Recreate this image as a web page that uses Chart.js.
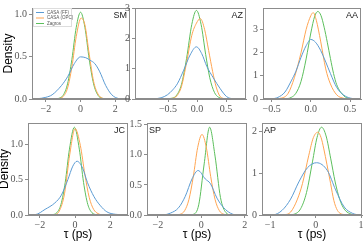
<!DOCTYPE html>
<html>
<head>
<meta charset="utf-8">
<script src="https://cdn.jsdelivr.net/npm/chart.js@4.4.0/dist/chart.umd.min.js"></script>
<style>
  body { margin: 0; background: #fff; width: 364px; height: 242px; overflow: hidden; position: relative; }
  canvas { position: absolute; }
</style>
</head>
<body>
<canvas id="c1"></canvas>
<canvas id="c2"></canvas>
<canvas id="c3"></canvas>
<canvas id="c4"></canvas>
<canvas id="c5"></canvas>
<canvas id="c6"></canvas>
<script>
// nomes das séries e dos painéis
const seriesNames = ['CASA (FF)', 'CASA (OPC)', 'Zagros'];
const seriesColors = ['#5b9bd3', '#ffa552', '#5cbf5c'];
const panelNames = ['SM', 'AZ', 'AA', 'JC', 'SP', 'AP'];

// ticks de cada painel
const xTicks = [[-2, 0, 2], [-0.5, 0, 0.5], [-0.5, 0, 0.5], [-2, 0, 2], [-2, 0, 2], [-1, 0, 1]];
const yTicks = [[0, 0.5, 1], [0, 1, 2, 3], [0, 1, 2, 3], [0, 0.5, 1], [0, 0.5, 1, 1.5], [0, 1, 2]];
const xDecimals = [0, 1, 1, 0, 0, 0];
const yDecimals = [1, 0, 0, 1, 1, 0];

// SM
const smBlueX = [-2.8, -2.5, -2, -1.64, -1.1, -0.73, -0.36, 0, 0.3, 0.55, 0.82, 1.09, 1.45, 1.8, 2.2, 2.5, 2.85];
const smBlueY = [0, 0.003, 0.02, 0.05, 0.16, 0.27, 0.42, 0.5, 0.49, 0.46, 0.42, 0.33, 0.16, 0.05, 0.005, 0, 0];
const smOrangeX = [-2, -1.5, -1.25, -1, -0.75, -0.5, -0.25, 0.03, 0.25, 0.5, 0.75, 1, 1.25, 1.5, 2];
const smOrangeY = [0, 0, 0.005, 0.03, 0.13, 0.38, 0.74, 0.96, 0.88, 0.53, 0.21, 0.06, 0.01, 0.002, 0];
const smGreenX = [-2, -1.5, -1.25, -1, -0.75, -0.5, -0.25, 0, 0.25, 0.5, 0.75, 1, 1.25, 1.5, 2];
const smGreenY = [0, 0.001, 0.008, 0.045, 0.18, 0.47, 0.85, 1.03, 0.85, 0.47, 0.18, 0.045, 0.008, 0.001, 0];

// AZ
const azBlueX = [-1.07, -0.74, -0.62, -0.51, -0.42, -0.34, -0.23, -0.12, -0.01, 0.08, 0.17, 0.28, 0.4, 0.51, 0.62, 0.845];
const azBlueY = [0, 0.01, 0.04, 0.14, 0.3, 0.5, 0.95, 1.45, 1.72, 1.5, 1.07, 0.7, 0.34, 0.08, 0.01, 0];
const azOrangeX = [-0.6, -0.43, -0.35, -0.27, -0.18, -0.09, -0.01, 0.057, 0.13, 0.2, 0.27, 0.33, 0.4, 0.5];
const azOrangeY = [0, 0.02, 0.1, 0.4, 1.2, 2.1, 2.5, 2.65, 2.3, 1.6, 0.9, 0.4, 0.08, 0];
const azGreenX = [-0.6, -0.43, -0.35, -0.27, -0.18, -0.09, -0.01, 0.07, 0.15, 0.22, 0.3, 0.37, 0.5];
const azGreenY = [0, 0.025, 0.13, 0.47, 1.34, 2.46, 2.92, 2.46, 1.46, 0.7, 0.22, 0.06, 0];

// AA
const aaBlueX = [-0.61, -0.5, -0.42, -0.33, -0.25, -0.19, -0.125, -0.06, 0, 0.06, 0.125, 0.19, 0.25, 0.33, 0.42, 0.5, 0.58, 0.64];
const aaBlueY = [0, 0.01, 0.07, 0.3, 0.78, 1.2, 1.8, 2.3, 2.57, 2.45, 2.1, 1.6, 1.1, 0.5, 0.17, 0.04, 0.005, 0];
const aaOrangeX = [-0.5, -0.375, -0.29, -0.21, -0.125, -0.06, 0, 0.03, 0.07, 0.125, 0.19, 0.25, 0.33, 0.42, 0.5];
const aaOrangeY = [0, 0.04, 0.24, 0.92, 2.0, 3.0, 3.6, 3.73, 3.4, 2.5, 1.3, 0.65, 0.18, 0.03, 0];
const aaGreenX = [-0.5, -0.33, -0.25, -0.19, -0.125, -0.06, 0, 0.05, 0.09, 0.13, 0.17, 0.21, 0.25, 0.29, 0.33, 0.42, 0.5, 0.6];
const aaGreenY = [0, 0.008, 0.07, 0.25, 0.76, 1.73, 2.85, 3.58, 3.78, 3.6, 3.1, 2.45, 1.75, 1.1, 0.62, 0.14, 0.02, 0];

// JC
const jcBlueX = [-2.67, -2.25, -1.7, -1.15, -0.78, -0.41, -0.13, 0.11, 0.43, 0.7, 1.07, 1.44, 1.8, 2.28, 3.0];
const jcBlueY = [0, 0.005, 0.08, 0.17, 0.28, 0.5, 0.69, 0.76, 0.66, 0.46, 0.26, 0.13, 0.045, 0.01, 0];
const jcOrangeX = [-1.6, -1.2, -0.9, -0.6, -0.3, 0, 0.3, 0.55, 0.8, 1.05, 1.3, 1.6];
const jcOrangeY = [0, 0.005, 0.054, 0.3, 0.86, 1.22, 0.98, 0.58, 0.25, 0.08, 0.02, 0];
const jcGreenX = [-1.8, -1.52, -1.28, -1.04, -0.8, -0.56, -0.32, -0.04, 0.24, 0.48, 0.72, 0.96, 1.2, 1.44, 1.7];
const jcGreenY = [0, 0, 0.005, 0.032, 0.15, 0.46, 0.93, 1.24, 0.93, 0.46, 0.15, 0.032, 0.005, 0, 0];

// SP
const spBlueX = [-2.5, -1.74, -1.43, -1.05, -0.74, -0.43, -0.15, 0.18, 0.42, 0.72, 1.03, 1.34, 1.57, 2.1];
const spBlueY = [0, 0.003, 0.03, 0.12, 0.31, 0.6, 0.74, 0.6, 0.52, 0.28, 0.12, 0.03, 0.003, 0];
const spOrangeX = [-1.5, -1.17, -0.97, -0.77, -0.57, -0.37, -0.17, 0.03, 0.23, 0.43, 0.63, 0.83, 1.03, 1.23, 1.5];
const spOrangeY = [0, 0, 0.013, 0.071, 0.26, 0.64, 1.12, 1.34, 1.12, 0.64, 0.26, 0.071, 0.013, 0, 0];
const spGreenX = [-1, -0.62, -0.37, -0.12, 0.13, 0.38, 0.63, 0.88, 1.13, 1.38, 1.8];
const spGreenY = [0, 0, 0.011, 0.17, 0.85, 1.46, 0.98, 0.29, 0.04, 0.002, 0];

// AP
const apBlueX = [-1.18, -0.93, -0.74, -0.55, -0.37, -0.18, 0.02, 0.26, 0.44, 0.63, 0.81, 0.96, 1.02];
const apBlueY = [0, 0.005, 0.11, 0.38, 0.79, 1.13, 1.25, 1.06, 0.6, 0.19, 0.04, 0.003, 0];
const apOrangeX = [-0.8, -0.7, -0.55, -0.4, -0.29, -0.15, -0.05, 0.05, 0.12, 0.18, 0.25, 0.33, 0.4, 0.48, 0.63, 0.8];
const apOrangeY = [0, 0.005, 0.07, 0.38, 0.75, 1.43, 1.85, 1.98, 1.85, 1.58, 1.2, 0.75, 0.35, 0.11, 0.01, 0];
const apGreenX = [-0.6, -0.47, -0.33, -0.2, -0.07, 0.03, 0.13, 0.23, 0.33, 0.43, 0.53, 0.63, 0.75, 0.9];
const apGreenY = [0, 0.02, 0.15, 0.54, 1.27, 1.85, 2.1, 1.89, 1.36, 0.79, 0.37, 0.14, 0.033, 0];

const panelSeries = [
  [[smBlueX, smBlueY], [smOrangeX, smOrangeY], [smGreenX, smGreenY]],
  [[azBlueX, azBlueY], [azOrangeX, azOrangeY], [azGreenX, azGreenY]],
  [[aaBlueX, aaBlueY], [aaOrangeX, aaOrangeY], [aaGreenX, aaGreenY]],
  [[jcBlueX, jcBlueY], [jcOrangeX, jcOrangeY], [jcGreenX, jcGreenY]],
  [[spBlueX, spBlueY], [spOrangeX, spOrangeY], [spGreenX, spGreenY]],
  [[apBlueX, apBlueY], [apOrangeX, apOrangeY], [apGreenX, apGreenY]]
];

// limites dos eixos
const xRanges = [[-2.8, 2.85], [-1.07, 0.845], [-0.61, 0.64], [-2.67, 3.0], [-2.5, 2.1], [-1.18, 1.02]];
const yRanges = [[0, 1.08], [0, 3.0], [0, 3.93], [0, 1.3], [0, 1.53], [0, 2.2]];

// posição da área do gráfico na página (left, top, right, bottom)
const boxes = [
  [32, 3, 130, 99], [135, 3, 246, 99], [263, 3, 361, 99],
  [28, 118, 128, 215], [147, 118, 247, 215], [262, 118, 362, 215]
];

const YW = 31, PADT = 3, PADR = 3;

function fmt(v, d) {
  return v.toFixed(d).replace('-', '\u2212');
}

// caixa em volta da área do gráfico + nome do painel + legenda
const panelDeco = {
  id: 'panelDeco',
  afterDraw(chart, args, o) {
    const { ctx, chartArea: a } = chart;
    ctx.save();
    ctx.strokeStyle = '#8c8c8c';
    ctx.lineWidth = 1;
    ctx.strokeRect(a.left + 0.5, a.top + 0.5, a.right - a.left - 1, a.bottom - a.top - 1);

    ctx.fillStyle = '#222';
    ctx.font = '9px "Liberation Sans", Arial, sans-serif';
    ctx.textBaseline = 'top';
    if (o.align === 'left') {
      ctx.textAlign = 'left';
      ctx.fillText(o.name, a.left + 2, a.top + 3);
    } else {
      ctx.textAlign = 'right';
      ctx.fillText(o.name, a.right - 3, a.top + 3);
    }

    if (o.legend) {
      const lx = a.left + 1, ly = a.top;
      ctx.fillStyle = 'rgba(255,255,255,0.85)';
      ctx.fillRect(lx, ly, 39, 19);
      ctx.strokeStyle = '#ddd';
      ctx.strokeRect(lx + 0.5, ly + 0.5, 38, 18);
      ctx.font = '4.5px "Liberation Sans", Arial, sans-serif';
      ctx.textAlign = 'left';
      ctx.textBaseline = 'middle';
      seriesNames.forEach((n, i) => {
        const yy = ly + 4.5 + i * 5.5;
        ctx.strokeStyle = seriesColors[i];
        ctx.beginPath();
        ctx.moveTo(lx + 3, yy);
        ctx.lineTo(lx + 11, yy);
        ctx.stroke();
        ctx.fillStyle = '#555';
        ctx.fillText(n, lx + 14, yy);
      });
    }
    ctx.restore();
  }
};

function makePanel(i) {
  const [l, t, r, b] = boxes[i];
  const bottomRow = i >= 3;
  const xh = bottomRow ? 27 : 14;
  const canvas = document.getElementById('c' + (i + 1));
  canvas.width = r - l + YW + PADR;
  canvas.height = b - t + PADT + xh;
  canvas.style.left = (l - YW) + 'px';
  canvas.style.top = (t - PADT) + 'px';

  const datasets = panelSeries[i].map((s, k) => ({
    label: seriesNames[k],
    data: s[0].map((x, j) => ({ x: x, y: s[1][j] })),
    borderColor: seriesColors[k],
    borderWidth: 1,
    pointRadius: 0,
    fill: false,
    cubicInterpolationMode: 'monotone'
  }));

  const tickFont = { family: 'Liberation Serif', size: 10 };

  new Chart(canvas.getContext('2d'), {
    type: 'line',
    data: { datasets: datasets },
    options: {
      responsive: false,
      animation: false,
      devicePixelRatio: 1,
      layout: { padding: { top: PADT, right: PADR, left: 0, bottom: 0 } },
      plugins: {
        legend: { display: false },
        tooltip: { enabled: false },
        panelDeco: { name: panelNames[i], align: (i === 4 || i === 5) ? 'left' : 'right', legend: i === 0 }
      },
      scales: {
        x: {
          type: 'linear',
          min: xRanges[i][0],
          max: xRanges[i][1],
          afterBuildTicks: ax => { ax.ticks = xTicks[i].map(v => ({ value: v })); },
          afterFit: ax => { ax.height = xh; },
          grid: { drawOnChartArea: false, tickLength: 3, color: '#8c8c8c' },
          border: { color: '#8c8c8c' },
          ticks: { font: tickFont, color: '#555', padding: 1, maxRotation: 0, callback: v => fmt(v, xDecimals[i]) },
          title: {
            display: bottomRow,
            text: '\u03c4 (ps)',
            color: '#000',
            font: { family: 'Liberation Sans', size: 12 },
            padding: 0
          }
        },
        y: {
          type: 'linear',
          min: yRanges[i][0],
          max: yRanges[i][1],
          afterBuildTicks: ax => { ax.ticks = yTicks[i].map(v => ({ value: v })); },
          afterFit: ax => { ax.width = YW; },
          grid: { drawOnChartArea: false, tickLength: 3, color: '#8c8c8c' },
          border: { color: '#8c8c8c' },
          ticks: { font: tickFont, color: '#555', padding: 2, callback: v => fmt(v, yDecimals[i]) },
          title: {
            display: i === 0 || i === 3,
            text: 'Density',
            color: '#000',
            font: { family: 'Liberation Sans', size: 12 },
            padding: 0
          }
        }
      }
    },
    plugins: [panelDeco]
  });
}

for (let i = 0; i < 6; i++) makePanel(i);
</script>
</body>
</html>
